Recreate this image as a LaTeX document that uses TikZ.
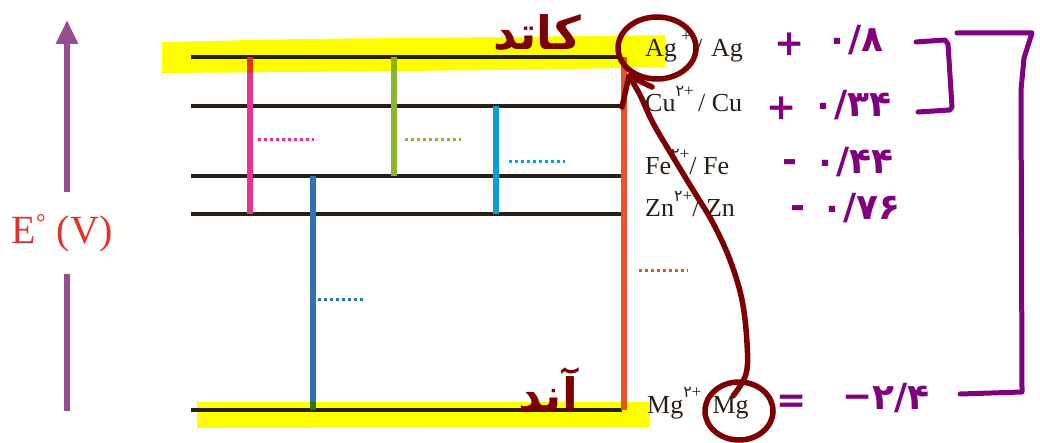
\documentclass[tikz,border=0pt]{standalone}
\usepackage{fontspec}
\setmainfont{Liberation Serif}
\newfontfamily\persian[Script=Arabic]{DejaVu Sans}
\usetikzlibrary{arrows.meta}
\TeXXeTstate=1

% charge written as a raised superscript
\newcommand\ionch[1]{\raisebox{0.58em}{\fontsize{17}{17}\selectfont #1}}
\newcommand\two{{\persian\fontsize{16}{16}\selectfont ۲}}

\definecolor{cLvl}{HTML}{2A1F17}
\definecolor{cPink}{HTML}{E6358B}
\definecolor{cBlue}{HTML}{2F73B5}
\definecolor{cGreen}{HTML}{8CB531}
\definecolor{cCyan}{HTML}{0A9FDB}
\definecolor{cOrange}{HTML}{E8522B}
\definecolor{cAxis}{HTML}{974E8E}
\definecolor{cAxLab}{HTML}{E03131}
\definecolor{cInk}{HTML}{7D0000}
\definecolor{cPen}{HTML}{800080}
\definecolor{cHi}{HTML}{FFFF00}

\begin{document}
\begin{tikzpicture}[x=1pt,y=-1pt,
  eline/.style={draw=cLvl, line width=4pt},
  vbar/.style={line width=6pt},
  dotrow/.style={line width=3pt, dash pattern=on 3pt off 3pt},
  elab/.style={anchor=base west, inner sep=0pt, text=cLvl,
               font=\fontsize{26}{26}\selectfont},
  axisline/.style={draw=cAxis, line width=6.5pt},
  handink/.style={draw=cInk, line width=5.5pt, line cap=round, line join=round},
  handpen/.style={draw=cPen, line width=5pt, line cap=round, line join=round},
  handnum/.style={anchor=west, inner sep=0pt, text=cPen,
                  font=\persian\bfseries\fontsize{36}{36}\selectfont},
  handword/.style={inner sep=0pt, text=cInk,
                   font=\persian\bfseries\fontsize{46}{46}\selectfont},
]
\useasboundingbox (0,0) rectangle (1040,443);

% potential axis
\coordinate (eTop) at (67,20);
\coordinate (eUp)  at (67,192);
\coordinate (eLow) at (67,274);
\coordinate (eBot) at (67,411);
\draw[axisline, -{Triangle[width=21pt,length=24pt]}] (eUp) -- (eTop);
\draw[axisline] (eLow) -- (eBot);
\node[inner sep=0pt, text=cAxLab, font=\fontsize{40}{40}\selectfont]
  (eLabel) at (62,233)
  {E\raisebox{0.32em}{\fontsize{24}{24}\selectfont°}\;(V)};

% electrode levels
\foreach \n/\y in {ag/57, cu/106, fe/176, zn/214, mg/410} {
  \coordinate (\n L) at (191,\y);
  \coordinate (\n R) at (622,\y);
  \draw[eline] (\n L) -- (\n R);
}

% cell voltages between pairs of levels
\draw[vbar, draw=cPink]   (250,57)  -- (250,214);
\draw[dotrow, draw=cPink] (258,140) -- (314,140);
\draw[vbar, draw=cBlue]   (313,176) -- (313,410);
\draw[dotrow, draw=cBlue] (318,299) -- (363,299);
\draw[vbar, draw=cGreen]  (394,57)  -- (394,176);
\draw[dotrow, draw=cGreen](405,140) -- (461,140);
\draw[vbar, draw=cCyan]   (496,106) -- (496,214);
\draw[dotrow, draw=cCyan] (509,162) -- (565,162);
\draw[vbar, draw=cOrange] (624,57)  -- (624,410);
\draw[dotrow, draw=cOrange](639,271) -- (688,271);

% half-cell labels
\node[elab] (agT) at (645,57)  {Ag\,\ionch{+}\,/\,\,Ag};
\node[elab] (cuT) at (645,112) {Cu\ionch{\two+}\,/ Cu};
\node[elab] (feT) at (645,175) {Fe\ionch{\two+}/ Fe};
\node[elab] (znT) at (645,217) {Zn\ionch{\two+}/ Zn};
\node[elab] (mgT) at (647,413) {Mg\ionch{\two+}\hspace{11pt}Mg};

% highlighter marks
\begin{scope}[blend mode=multiply]
  \fill[cHi] (162,42) -- (300,39) -- (600,36) -- (665,35) -- (665,67)
    -- (622,68) -- (500,70) -- (300,72) -- (162,73) -- cycle;
  \fill[cHi] (197,402) -- (650,402) -- (650,427) -- (197,428) -- cycle;
\end{scope}

% handwritten notes: electrodes and electron path
\node[handword] (cathode) at (537,33)  {\beginR کاتد\endR};
\node[handword] (anode)   at (548,390) {\beginR آند\endR};
\draw[handink] (657,48) ellipse [x radius=39pt, y radius=31pt];
\draw[handink] (739,411) ellipse [x radius=34pt, y radius=29pt];
\draw[handink] plot[smooth, tension=0.6] coordinates {(733,396) (746,374)
  (747,343) (742,300) (730,260) (713,223) (693,190) (673,157) (653,123)
  (640,95) (629,76)};
\draw[handink] (622,107) -- (629,76) -- (652,87);

% handwritten standard potentials
\node[handnum] (s1) at (774,44)  {+};
\node[handnum] (v1) at (826,40)  {۰/۸};
\node[handnum] (s2) at (766,108) {+};
\node[handnum] (v2) at (812,105) {۰/۳۴};
\node[handnum] (s3) at (782,166) {-};
\node[handnum] (v3) at (814,162) {۰/۴۴};
\node[handnum] (s4) at (790,212) {-};
\node[handnum] (v4) at (821,208) {۰/۷۶};
\node[handnum] (s5) at (776,404) {=};
\node[handnum] (m5) at (842,402) {−};
\node[handnum] (v5) at (872,398) {۲/۴};

% brackets grouping the pairs
\draw[handpen] (916,42) -- (945,40) -- (948,44) -- (952,107) -- (950,110) -- (918,112);
\draw[handpen] (957,33) -- (1032,33) -- (1024,58) -- (1021,90) -- (1022,392) -- (960,394);
\end{tikzpicture}
\end{document}
